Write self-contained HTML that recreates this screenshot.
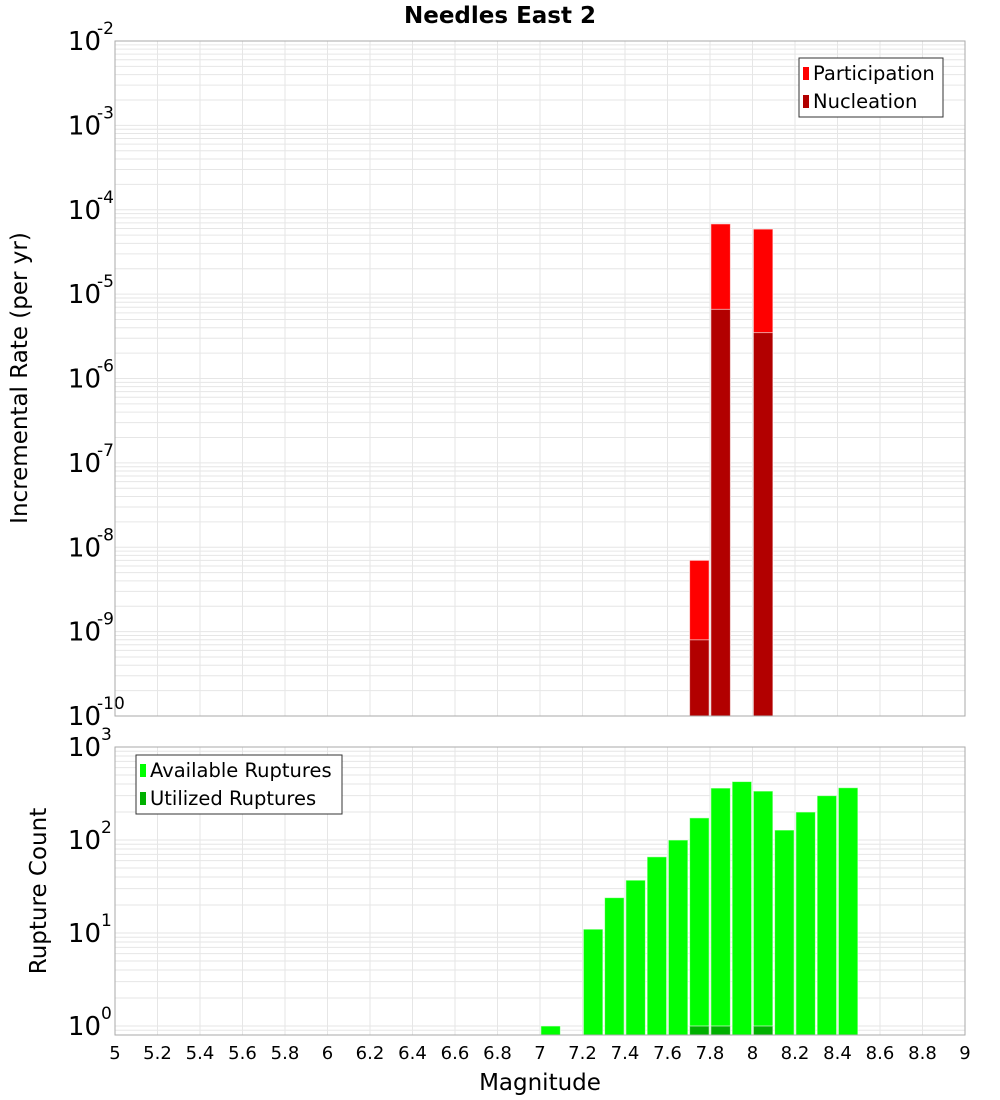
<!DOCTYPE html>
<html><head><meta charset="utf-8">
<style>
html,body{margin:0;padding:0;background:#fff;}
svg{display:block;font-family:"DejaVu Sans","Liberation Sans",sans-serif;}
</style></head>
<body>
<svg id="chart" width="1000" height="1100" xmlns="http://www.w3.org/2000/svg">
<text x="500" y="23" text-anchor="middle" font-size="23" font-weight="bold">Needles East 2</text>
<g id="top"></g>
<g id="bot"></g>
<text transform="translate(27,378) rotate(-90)" text-anchor="middle" font-size="23">Incremental Rate (per yr)</text>
<text transform="translate(46,891) rotate(-90)" text-anchor="middle" font-size="23">Rupture Count</text>
<text x="540" y="1090" text-anchor="middle" font-size="23">Magnitude</text>
</svg>
<script>
// ---- data ----
const rateMags = [7.75, 7.85, 8.05];
const participationRates = [7e-9, 6.8e-5, 5.9e-5];
const nucleationRates = [8e-10, 6.6e-6, 3.5e-6];
const countMags = [7.05, 7.25, 7.35, 7.45, 7.55, 7.65, 7.75, 7.85, 7.95, 8.05, 8.15, 8.25, 8.35, 8.45];
const availableCounts = [1, 11, 24, 37, 66, 100, 173, 362, 425, 336, 128, 200, 300, 365];
const utilizedMags = [7.75, 7.85, 8.05];
const utilizedCounts = [1, 1, 1];
const xTicks = [5,5.2,5.4,5.6,5.8,6,6.2,6.4,6.6,6.8,7,7.2,7.4,7.6,7.8,8,8.2,8.4,8.6,8.8,9];
const topExps = [-2,-3,-4,-5,-6,-7,-8,-9,-10];
const botExps = [3,2,1,0];

const NS = "http://www.w3.org/2000/svg";
const L = 115, R = 965;
const xs = m => L + (m - 5) / 4 * (R - L);
const topP = {t:41, b:716, lmin:-10, lmax:-2};
const botP = {t:747, b:1035, lmin:Math.log10(0.8), lmax:3};
function ys(p, v){ const l = Math.log10(v); return p.b - (l - p.lmin) / (p.lmax - p.lmin) * (p.b - p.t); }
function el(parent, tag, attrs){ const e = document.createElementNS(NS, tag); for (const k in attrs) e.setAttribute(k, attrs[k]); parent.appendChild(e); return e; }

function panel(g, p, exps, name){
  const bg = el(g, 'rect', {x:L, y:p.t, width:R-L, height:p.b-p.t, fill:'#fff'});
  
  
  for (let e = Math.floor(p.lmin); e < p.lmax; e++) {
    for (let k = 1; k < 10; k++) {
      const v = k * Math.pow(10, e);
      if (Math.log10(v) < p.lmin || Math.log10(v) > p.lmax) continue;
      const y = ys(p, v);
      const gl = el(g, 'line', {x1:L, x2:R, y1:y, y2:y, stroke:'#e6e6e6', 'stroke-width':1});
      
      
    }
  }
  xTicks.forEach(t => {
    const x = xs(t);
    const gl = el(g, 'line', {x1:x, x2:x, y1:p.t, y2:p.b, stroke:'#e6e6e6', 'stroke-width':1});
    
    
  });
  exps.forEach(e => {
    const y = ys(p, Math.pow(10, e));
    const t = el(g, 'text', {x:101, y:y + 9, 'text-anchor':'end', 'font-size':26});
    
    
    t.textContent = '10';
    const s = el(g, 'text', {x:101, y:y - 7, 'text-anchor':'start', 'font-size':17});
    
    
    s.textContent = String(e);
    if (e < 0) s.setAttribute('x', 97);
  });
}
function bar(g, p, m, v, fill, name){
  const x0 = xs(m - 0.046), x1 = xs(m + 0.046);
  const y = ys(p, v);
  const r = el(g, 'rect', {x:x0, y:y, width:x1 - x0, height:p.b - y, fill:fill, stroke:'rgba(255,255,255,0.6)', 'stroke-width':1});
  
  
}
function frame(g, p, name){
  const f = el(g, 'rect', {x:L, y:p.t, width:R-L, height:p.b-p.t, fill:'none', stroke:'#aaa', 'stroke-width':1});
  
  
}
function legend(g, x, y, w, items, name){
  const b = el(g, 'rect', {x:x, y:y, width:w, height:59, fill:'#fff', stroke:'#333', 'stroke-width':1});
  
  
  items.forEach((it, i) => {
    const sw = el(g, 'rect', {x:x + 4, y:y + 9 + i * 28, width:6, height:13, fill:it[1]});
    
    
    const t = el(g, 'text', {x:x + 14, y:y + 22 + i * 28, 'font-size':19.5});
    
    
    t.textContent = it[0];
  });
}

const gt = document.getElementById('top');
panel(gt, topP, topExps, 'rate');
rateMags.forEach((m, i) => bar(gt, topP, m, participationRates[i], '#ff0000', 'participation-bar'));
rateMags.forEach((m, i) => bar(gt, topP, m, nucleationRates[i], '#b20000', 'nucleation-bar'));
frame(gt, topP, 'rate');
legend(gt, 799, 58, 144, [['Participation', '#ff0000'], ['Nucleation', '#b20000']], 'rate-legend');

const gb = document.getElementById('bot');
panel(gb, botP, botExps, 'count');
countMags.forEach((m, i) => bar(gb, botP, m, availableCounts[i], '#00ff00', 'available-bar'));
utilizedMags.forEach((m, i) => bar(gb, botP, m, utilizedCounts[i], '#00b000', 'utilized-bar'));
frame(gb, botP, 'count');
legend(gb, 136, 755, 206, [['Available Ruptures', '#00ff00'], ['Utilized Ruptures', '#00b000']], 'count-legend');

xTicks.forEach(t => {
  const tx = el(gb, 'text', {x:xs(t), y:1059, 'text-anchor':'middle', 'font-size':18});
  
  
  tx.textContent = String(t);
});
</script>
</body></html>
